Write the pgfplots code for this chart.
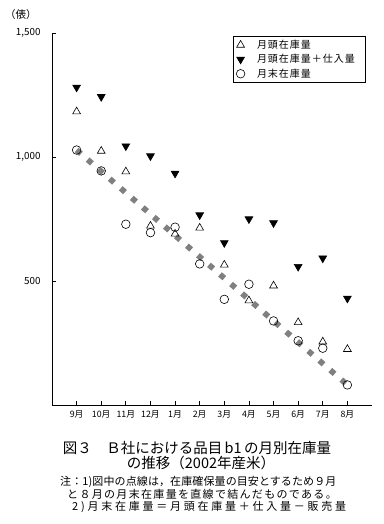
\documentclass[border=0pt]{standalone}
\usepackage{fontspec}
\setmainfont{Noto Sans CJK JP}
\newfontfamily\legfont[LetterSpace=10]{Noto Sans CJK JP}
\newfontfamily\noteA[LetterSpace=1]{Noto Sans CJK JP}
\newfontfamily\noteB[LetterSpace=12]{Noto Sans CJK JP}
\newfontfamily\noteC[LetterSpace=25]{Noto Sans CJK JP}
\usepackage{pgfplots}
\pgfplotsset{compat=1.18}
\definecolor{dotgray}{HTML}{808080}

\pgfplotstableread{
x tri down circ
0 1183 1281 1028
1 1024 1243 944
2 941 1044 729
3 722 1004 695
4 690 934 717
5 714 766 569
6 565 654 426
7 421 750 487
8 481 734 339
9 333 558 259
10 255 592 229
11 225 430 81
}\datatable

\begin{document}
\begin{tikzpicture}[x=1pt,y=1pt]
\useasboundingbox (0,0) rectangle (383,-524);
\begin{axis}[
  at={(52pt,-405pt)}, anchor=south west,
  scale only axis, width=320pt, height=372pt,
  xmin=-1, xmax=12, ymin=0, ymax=1500,
  axis x line=bottom, axis y line=left,
  axis line style={-, line width=0.8pt},
  tick align=inside, major tick length=4pt,
  tick style={black, line width=0.8pt},
  xtick={0,...,11},
  xticklabels={9月,10月,11月,12月,1月,2月,3月,4月,5月,6月,7月,8月},
  ytick={500,1000,1500},
  yticklabels={500,{1,000},{1,500}},
  xticklabel style={yshift=-2pt, font=\fontsize{8.8}{10}\selectfont},
  yticklabel style={xshift=-8pt, font=\fontsize{9.8}{11}\selectfont},
  clip=false,
  legend style={at={(0.565,0.993)}, anchor=north west, draw=black, line width=0.8pt,
    font=\legfont\fontsize{10}{11}\selectfont, row sep=0.5pt, inner xsep=2pt, inner ysep=2pt},
  legend cell align=left,
  legend image code/.code={\path (-5pt,0pt) (14pt,0pt); \draw[mark repeat=1,#1] plot coordinates {(0pt,0pt)};},
]
\addplot[forget plot, dotgray, line width=5.7pt, dash pattern=on 5.7pt off 8.9pt] coordinates {(0,1028) (11,81)};
\addplot[only marks, mark=triangle, mark size=4.5pt, mark options={black, line width=0.6pt}] table[x=x, y=tri] {\datatable};
\addplot[only marks, mark=triangle*, mark size=4.5pt, mark options={black, fill=black, rotate=180, line width=0.6pt}] table[x=x, y=down] {\datatable};
\addplot[only marks, mark=o, mark size=4.3pt, mark options={black, line width=0.6pt}] table[x=x, y=circ] {\datatable};
\legend{月頭在庫量, 月頭在庫量＋仕入量\hspace*{6pt}, 月末在庫量}
\end{axis}
\node[font=\fontsize{10.5}{12}\selectfont, inner sep=0pt] at (21,-15) {（俵）};
\node[font=\fontsize{14.5}{16}\selectfont, inner sep=0pt] at (197,-448) {図３　Ｂ社における品目\,b1\,の月別在庫量};
\node[font=\fontsize{14.5}{16}\selectfont, inner sep=0pt] at (201,-463) {の推移（2002年産米）};
\node[anchor=west, inner sep=0pt, font=\noteA\fontsize{11}{12}\selectfont] at (60,-482) {注：1)図中の点線は，在庫確保量の目安とするため９月};
\node[anchor=west, inner sep=0pt, font=\noteB\fontsize{11}{12}\selectfont] at (67,-494) {と８月の月末在庫量を直線で結んだものである。};
\node[anchor=west, inner sep=0pt, font=\noteC\fontsize{11}{12}\selectfont] at (72,-507) {2)月末在庫量＝月頭在庫量＋仕入量－販売量};
\end{tikzpicture}
\end{document}
